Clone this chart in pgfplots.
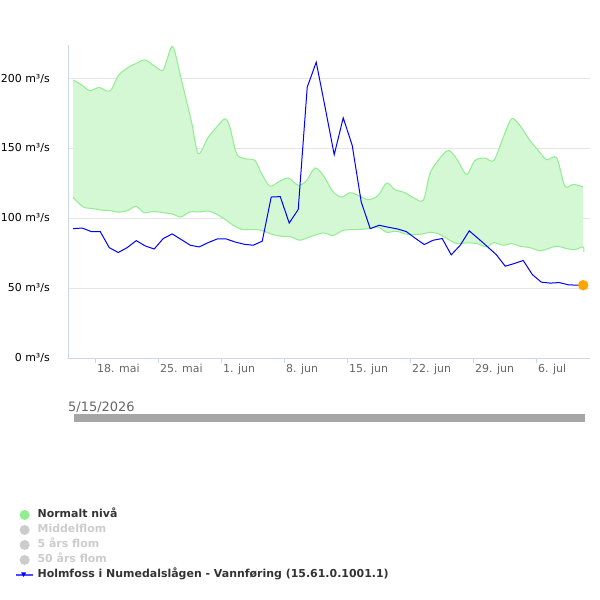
\documentclass[border=0pt]{standalone}
\usepackage{pgfplots}
\pgfplotsset{compat=1.18}
\usepgfplotslibrary{fillbetween}
\usepackage{fontspec}
\setmainfont{DejaVu Sans}
\definecolor{bandfill}{RGB}{212,247,212}
\definecolor{bandline}{RGB}{144,238,144}
\definecolor{axline}{RGB}{204,214,235}
\definecolor{gridc}{RGB}{230,230,230}
\definecolor{lbl}{RGB}{102,102,102}
\definecolor{legdark}{RGB}{51,51,51}
\definecolor{leggray}{RGB}{204,204,204}
\definecolor{navbar}{RGB}{166,166,166}
\definecolor{flow}{RGB}{0,0,255}
\definecolor{dotc}{RGB}{255,165,0}
\begin{document}
\begin{tikzpicture}[x=1bp,y=1bp]
\path (0,0) rectangle (600,-600);
\begin{axis}[
  at={(68bp,-358bp)}, anchor=south west,
  scale only axis, width=522bp, height=313bp,
  xmin=-0.1, xmax=57.9, ymin=0, ymax=224,
  axis x line*=bottom, axis y line*=left,
  axis line style={axline, -},
  /pgf/number format/assume math mode=true,
  ytick={0,50,100,150,200},
  yticklabel={\pgfmathprintnumber{\tick} m³/s},
  yticklabel style={anchor=east, inner sep=0pt, xshift=-13bp, font=\fontsize{11}{13}\selectfont, text=black},
  ytick style={draw=none},
  ymajorgrids, major grid style={gridc, line width=1bp},
  xtick={3,10,17,24,31,38,45,52},
  xticklabels={18. mai, 25. mai, 1. jun, 8. jun, 15. jun, 22. jun, 29. jun, 6. jul},
  xticklabel style={anchor=north west, inner sep=0pt, xshift=1bp, yshift=-1bp, font=\fontsize{11}{13}\selectfont, text=lbl},
  xtick style={axline, line width=1bp},
  tick align=outside, major tick length=5bp,
  legend style={at={(-0.1015,-0.4775)}, anchor=north west, draw=none, fill=none,
    inner sep=0pt, outer sep=0pt, row sep=0pt,
    font=\fontsize{11}{13}\selectfont\bfseries,
    nodes={inner sep=0pt, text height=10bp, text depth=5bp},
    /tikz/every odd column/.append style={column sep=4bp}},
  legend cell align=left,
  clip=false,
]
\addplot[draw=none, name path=upper, smooth, forget plot] coordinates {
(0.48,199) (1.41,195.5) (2.33,191.4) (3.37,193.6) (4.56,191) (5.48,202) (6.59,208) (7.52,211)
(8.44,213.3) (9.44,209.3) (10.41,205.7) (10.86,212.9) (11.41,222.9) (11.78,218.8) (12.52,198.6)
(13.63,168.8) (14.37,146.2) (15.48,158) (16.41,165.2) (17.33,171.2) (17.89,165.2) (18.63,146.2)
(19.56,142.6) (20.67,141.4) (21.41,131.9) (22.33,123) (23.26,125.9) (24.37,128.8) (25.48,123.6)
(26.41,127) (27.33,136) (28.26,130.7) (29.37,118.8) (30.3,115.2) (31.22,118.3) (32.14,116.4)
(33.26,113.3) (34.37,116.4) (35.3,125.2) (36.22,120.5) (37.33,118.3) (38.26,114.8) (39.37,112.9)
(40.11,131.9) (41.03,141.4) (42.14,148.6) (43.08,142.6) (44.19,131.4) (45.11,141.4) (46.22,143.1)
(47.22,141.4) (48.26,158) (49.19,171.2) (50.11,166.4) (51.22,155.7) (52.14,148.6) (53.08,141.9)
(54.19,143.3) (55.11,123) (56.03,124.3) (57.14,122.4)};
\addplot[draw=none, name path=lower, smooth, forget plot] coordinates {
(0.48,114.8) (1.59,108.1) (2.7,106.9) (3.81,105.7) (4.56,105.5) (5.48,104.3) (6.59,105.7) (7.44,108.6)
(8.33,104) (9.37,104.8) (10.48,104) (11.59,102.9) (12.44,100.9) (13.44,104.5) (14.56,104.5)
(15.48,105.2) (16.41,102.9) (17.33,99.3) (18.26,95) (19.19,92.1) (20.48,91.9) (21.41,91.4)
(22.52,88.6) (23.63,87.1) (24.56,86.9) (25.67,84.3) (26.78,86.7) (28.26,89.5) (29.37,87.6)
(30.48,91.4) (31.97,91.9) (33.44,92.6) (34.37,93.8) (35.3,90) (36.41,90.7) (37.52,88.6)
(39.19,88.6) (40.11,90) (41.03,89) (41.97,85.5) (43.08,81.9) (44.19,82.4) (45.3,81.9) (46.41,79.5)
(47.22,82.6) (48.26,80.7) (49.19,81.9) (50.11,80) (51.22,79) (52.33,76.7) (53.26,78.3) (54.19,80)
(55.33,78.3) (56.22,77.6) (57.14,79.5)};
\addplot[bandfill, forget plot] fill between[of=upper and lower];
\addplot[bandline, line width=1bp, smooth, forget plot] coordinates {
(0.48,199) (1.41,195.5) (2.33,191.4) (3.37,193.6) (4.56,191) (5.48,202) (6.59,208) (7.52,211)
(8.44,213.3) (9.44,209.3) (10.41,205.7) (10.86,212.9) (11.41,222.9) (11.78,218.8) (12.52,198.6)
(13.63,168.8) (14.37,146.2) (15.48,158) (16.41,165.2) (17.33,171.2) (17.89,165.2) (18.63,146.2)
(19.56,142.6) (20.67,141.4) (21.41,131.9) (22.33,123) (23.26,125.9) (24.37,128.8) (25.48,123.6)
(26.41,127) (27.33,136) (28.26,130.7) (29.37,118.8) (30.3,115.2) (31.22,118.3) (32.14,116.4)
(33.26,113.3) (34.37,116.4) (35.3,125.2) (36.22,120.5) (37.33,118.3) (38.26,114.8) (39.37,112.9)
(40.11,131.9) (41.03,141.4) (42.14,148.6) (43.08,142.6) (44.19,131.4) (45.11,141.4) (46.22,143.1)
(47.22,141.4) (48.26,158) (49.19,171.2) (50.11,166.4) (51.22,155.7) (52.14,148.6) (53.08,141.9)
(54.19,143.3) (55.11,123) (56.03,124.3) (57.14,122.4)};
\addplot[bandline, line width=1bp, smooth, forget plot] coordinates {
(0.48,114.8) (1.59,108.1) (2.7,106.9) (3.81,105.7) (4.56,105.5) (5.48,104.3) (6.59,105.7) (7.44,108.6)
(8.33,104) (9.37,104.8) (10.48,104) (11.59,102.9) (12.44,100.9) (13.44,104.5) (14.56,104.5)
(15.48,105.2) (16.41,102.9) (17.33,99.3) (18.26,95) (19.19,92.1) (20.48,91.9) (21.41,91.4)
(22.52,88.6) (23.63,87.1) (24.56,86.9) (25.67,84.3) (26.78,86.7) (28.26,89.5) (29.37,87.6)
(30.48,91.4) (31.97,91.9) (33.44,92.6) (34.37,93.8) (35.3,90) (36.41,90.7) (37.52,88.6)
(39.19,88.6) (40.11,90) (41.03,89) (41.97,85.5) (43.08,81.9) (44.19,82.4) (45.3,81.9) (46.41,79.5)
(47.22,82.6) (48.26,80.7) (49.19,81.9) (50.11,80) (51.22,79) (52.33,76.7) (53.26,78.3) (54.19,80)
(55.33,78.3) (56.22,77.6) (57.14,79.5) (57.2,75.9)};
\addplot[flow, line width=1bp, forget plot] coordinates {
(0.48,92.6) (1.48,93) (2.48,90.5) (3.48,90.5) (4.48,79) (5.48,75.5) (6.48,79) (7.48,84)
(8.48,80.2) (9.48,78) (10.48,85.5) (11.48,88.8) (12.48,84.8) (13.48,80.7) (14.48,79.5)
(15.48,82.6) (16.48,85.2) (17.48,85.2) (18.48,83) (19.48,81.4) (20.48,80.7) (21.48,83.6)
(22.48,115.2) (23.48,115.5) (24.48,96.6) (25.48,106.3) (26.48,193.8) (27.48,211.7) (28.48,179)
(29.48,145.5) (30.48,171.9) (31.48,152.1) (32.48,111.7) (33.48,92.6) (34.48,95) (35.48,93.6)
(36.48,92.4) (37.48,90.5) (38.48,85.7) (39.48,81.2) (40.48,84.3) (41.48,85.5) (42.48,73.8)
(43.48,80.7) (44.48,91) (45.48,85.5) (46.48,79.8) (47.48,74) (48.48,65.7) (49.48,67.6)
(50.48,69.8) (51.48,59.8) (52.48,54.3) (53.48,53.6) (54.48,54) (55.48,52.4) (56.48,52.1) (57.14,52.1)};
\addplot[only marks, mark=*, mark size=5bp, mark options={draw=dotc, fill=dotc}, forget plot] coordinates {(57.14,52.1)};
\addlegendimage{legend image code/.code={\path[draw=none,fill=none] (0bp,-6bp) rectangle (17bp,6bp); \fill[bandline, draw=none] (8bp,0) circle (5bp);}}
\addlegendentry{\textcolor{legdark}{Normalt nivå}}
\addlegendimage{legend image code/.code={\path[draw=none,fill=none] (0bp,-6bp) rectangle (17bp,6bp); \fill[leggray, draw=none] (8bp,0) circle (5bp);}}
\addlegendentry{\textcolor{leggray}{Middelflom}}
\addlegendimage{legend image code/.code={\path[draw=none,fill=none] (0bp,-6bp) rectangle (17bp,6bp); \fill[leggray, draw=none] (8bp,0) circle (5bp);}}
\addlegendentry{\textcolor{leggray}{5 års flom}}
\addlegendimage{legend image code/.code={\path[draw=none,fill=none] (0bp,-6bp) rectangle (17bp,6bp); \fill[leggray, draw=none] (8bp,0) circle (5bp);}}
\addlegendentry{\textcolor{leggray}{50 års flom}}
\addlegendimage{legend image code/.code={\path[draw=none,fill=none] (0bp,-6bp) rectangle (17bp,6bp); \draw[flow!70, line width=1.2bp] (-1bp,0)--(16bp,0); \fill[flow, draw=none] (4.5bp,2.5bp)--(9.5bp,2.5bp)--(7bp,-2bp)--cycle;}}
\addlegendentry{\textcolor{legdark}{Holmfoss i Numedalslågen - Vannføring (15.61.0.1001.1)}}
\end{axis}
\node[anchor=base west, inner sep=0pt, text=lbl, font=\fontsize{13}{15}\selectfont] at (68,-411) {5/15/2026};
\fill[navbar] (74,-414) rectangle (585,-421.5);
\end{tikzpicture}
\end{document}
